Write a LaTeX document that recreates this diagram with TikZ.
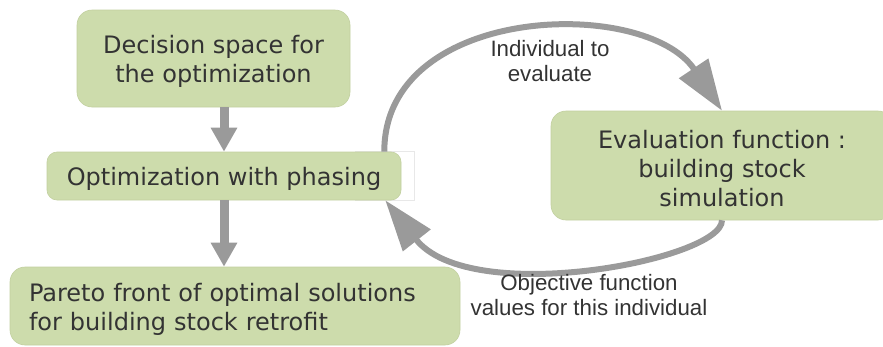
\documentclass[tikz,border=0pt]{standalone}
\usepackage{fontspec}
\setmainfont{DejaVu Sans}
\newfontfamily\labfont{Liberation Sans}
\usetikzlibrary{arrows.meta}
\definecolor{boxgreen}{HTML}{CDDCAC}
\definecolor{boxline}{HTML}{C2D0A0}
\definecolor{arrowgray}{HTML}{9A9A9A}
\definecolor{txt}{HTML}{333333}
\newcommand{\lowr}{\rule{0pt}{24pt}}
\tikzset{
  box/.style={fill=boxgreen, draw=boxline, line width=0.6pt, rounded corners=15pt,
    text=txt, font=\fontsize{24}{29}\selectfont, align=center, inner sep=0pt},
  vert/.style={draw=arrowgray, line width=9pt, -{Triangle[length=24pt,width=25pt]}},
  loop/.style={draw=arrowgray, line width=6pt, -{Triangle[length=51pt,width=34pt]}},
  lab/.style={text=txt, font=\labfont\fontsize{22.3}{24.5}\selectfont, align=center, inner sep=0pt}
}
\begin{document}
\begin{tikzpicture}[x=1pt,y=-1pt]
\useasboundingbox (0,0) rectangle (883,346);
% faint white frame behind the optimization box
\draw[draw=black!9, fill=white, line width=0.6pt] (355,151) rectangle (414,200);
\node[box, minimum width=273pt, minimum height=97pt] (dec) at (213.5,58.5)
  {\lowr Decision space for\\the optimization};
\node[box, minimum width=354pt, minimum height=48pt, rounded corners=10pt] (opt) at (224,176)
  {\lowr Optimization with phasing};
\node[box, minimum width=450pt, minimum height=78pt, text width=412pt, align=left, inner xsep=19pt] (par) at (235,306)
  {\lowr Pareto front of optimal solutions\\for building stock retrofit};
\node[box, minimum width=342pt, minimum height=109pt] (eval) at (722,165.5)
  {\lowr Evaluation function :\\building stock\\simulation};
\draw[vert] (dec.south -| opt.north) -- (opt.north);
\draw[vert] (opt.south) -- (opt.south |- par.north);
\draw[loop] ([xshift=-17pt]opt.north east) .. controls (384,4) and (645,-4) .. (eval.north);
\draw[loop] (eval.south) .. controls (722,260) and (470,308) .. ([xshift=-16pt]opt.south east);
\node[lab] (l1) at (550,61) {Individual to\\evaluate};
\node[lab] (l2) at (589,295) {Objective function\\values for this individual};
\end{tikzpicture}
\end{document}
